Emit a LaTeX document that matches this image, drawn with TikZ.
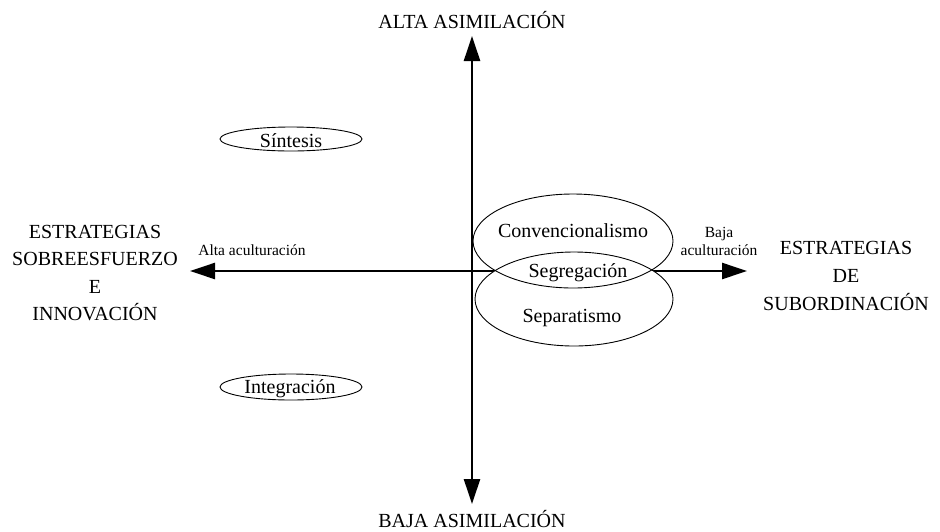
\documentclass[tikz,border=0pt]{standalone}
\usepackage{fontspec}
\setmainfont{Liberation Serif}
\usetikzlibrary{arrows.meta,shapes.geometric}
\begin{document}
\begin{tikzpicture}[x=1pt,y=-1pt,
  big/.style={font=\fontsize{20}{27.6}\selectfont, inner sep=0pt},
  small/.style={font=\fontsize{15.5}{17.5}\selectfont, inner sep=0pt},
  axis/.style={line width=2.5pt, -{Triangle[length=25pt,width=16pt]}},
  oval/.style={draw, ellipse, line width=0.9pt, inner sep=0pt},
  ovalfill/.style={fill=white, ellipse, inner sep=0pt},
  outline/.style={line width=0.9pt}
]
\useasboundingbox (0,0) rectangle (940,531);
% axes
\coordinate (o) at (472,271);
\coordinate (top) at (472,36);
\coordinate (bot) at (472,504);
\coordinate (lft) at (190,271);
\coordinate (rgt) at (747,271);
\draw[axis] (o) -- (top);
\draw[axis] (o) -- (bot);
\draw[axis] (o) -- (lft);
\draw[axis] (o) -- (rgt);
% axis labels
\node[big, anchor=base] (alta) at (472,28) {ALTA ASIMILACIÓN};
\node[big, anchor=base] (baja) at (472,527) {BAJA ASIMILACIÓN};
\node[big, align=center] (izq) at (95,273) {ESTRATEGIAS\\SOBREESFUERZO\\E\\INNOVACIÓN};
\node[big, align=center] (der) at (846,276) {ESTRATEGIAS\\DE\\SUBORDINACIÓN};
\node[small, anchor=base] (altaac) at (252,255) {Alta aculturación};
\node[small, align=center] (bajaac) at (719,241.5) {Baja\\aculturación};
% overlapping ovals: white fill first, outlines after
\node[ovalfill, minimum width=200pt, minimum height=94pt] (conv) at (573,241) {};
\node[ovalfill, minimum width=198pt, minimum height=94pt] (sep) at (574,299) {};
\draw[outline] (conv.center) ellipse [x radius=100pt, y radius=47pt];
\draw[outline] (sep.center) ellipse [x radius=99pt, y radius=47pt];
% small ovals
\node[oval, minimum width=142pt, minimum height=24pt] (sin) at (291,139) {};
\node[oval, minimum width=142pt, minimum height=26pt] (int) at (291,387) {};
% texts
\node[big, anchor=base] (tconv) at (573,237) {Convencionalismo};
\node[big, anchor=base] (tseg) at (578,277) {Segregación};
\node[big, anchor=base] (tsep) at (572,322) {Separatismo};
\node[big, anchor=base] (tsin) at (291,147) {Síntesis};
\node[big, anchor=base] (tint) at (290,393) {Integración};
\end{tikzpicture}
\end{document}
